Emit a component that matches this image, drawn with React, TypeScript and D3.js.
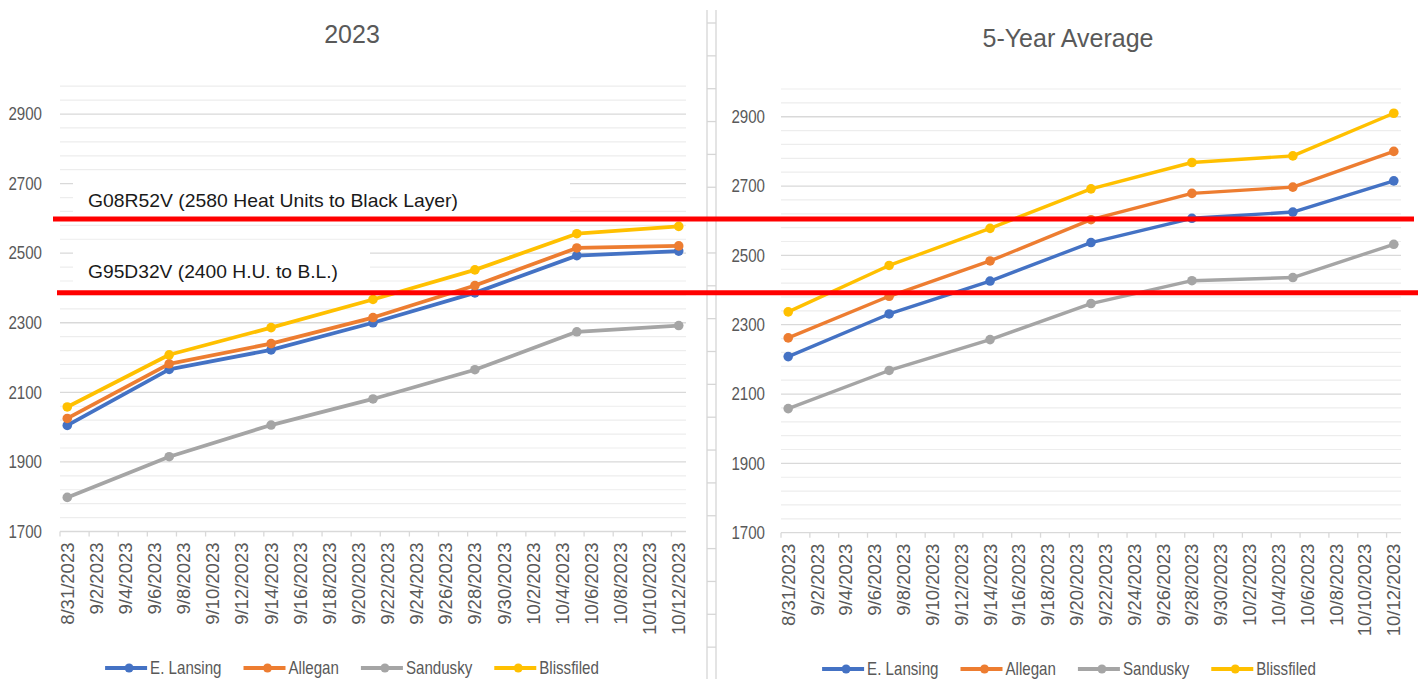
import React, { useEffect, useRef } from 'react';
import * as d3 from 'd3';

// ---------- data ----------
const seriesNames = ['E. Lansing', 'Allegan', 'Sandusky', 'Blissfiled'];
const seriesColors = ['#4472C4', '#ED7D31', '#A5A5A5', '#FFC000'];

const obsDates = ['2023-08-31', '2023-09-07', '2023-09-14', '2023-09-21', '2023-09-28', '2023-10-05', '2023-10-12'];

// 2023 season
const lansing2023 = [2005, 2166, 2222, 2300, 2386, 2493, 2506];
const allegan2023 = [2025, 2182, 2240, 2315, 2407, 2515, 2521];
const sandusky2023 = [1798, 1915, 2006, 2081, 2165, 2274, 2292];
const blissfield2023 = [2058, 2208, 2286, 2367, 2452, 2556, 2577];

// 5-year average
const lansingAvg = [2208, 2331, 2426, 2537, 2607, 2625, 2715];
const alleganAvg = [2262, 2382, 2484, 2603, 2679, 2697, 2800];
const sanduskyAvg = [2058, 2168, 2257, 2361, 2427, 2436, 2532];
const blissfieldAvg = [2337, 2471, 2578, 2692, 2768, 2787, 2910];

const yTickValues = [1700, 1900, 2100, 2300, 2500, 2700, 2900];
const yDomain = [1700, 2980];
const yMinorStep = 40;

const xTickLabels = [
  '8/31/2023', '9/2/2023', '9/4/2023', '9/6/2023', '9/8/2023', '9/10/2023', '9/12/2023', '9/14/2023',
  '9/16/2023', '9/18/2023', '9/20/2023', '9/22/2023', '9/24/2023', '9/26/2023', '9/28/2023', '9/30/2023',
  '10/2/2023', '10/4/2023', '10/6/2023', '10/8/2023', '10/10/2023', '10/12/2023',
];

const panelTitles = ['2023', '5-Year Average'];
const thresholdLevels = [2598, 2386];
const annotationTexts = ['G08R52V (2580 Heat Units to Black Layer)', 'G95D32V (2400 H.U. to B.L.)'];

// ---------- helpers ----------
const parseDate = (s: string) => {
  const [y, m, d] = s.split('-').map(Number);
  return new Date(y, m - 1, d);
};
const parseLabel = (s: string) => {
  const [m, d, y] = s.split('/').map(Number);
  return new Date(y, m - 1, d);
};
const addHours = (dt: Date, h: number) => new Date(dt.getTime() + h * 3600 * 1000);

const REG = "'Liberation Sans', Arial, sans-serif";
const TEXT = '#595959';
const NARROW_SX = 0.84;

export default function App() {
  const ref = useRef<SVGSVGElement | null>(null);

  useEffect(() => {
    const svg = d3.select(ref.current);
    svg.selectAll('*').remove();

    const firstDay = parseDate(obsDates[0]);
    const lastDay = parseDate(obsDates[obsDates.length - 1]);
    const xDomain = [addHours(firstDay, -12), addHours(lastDay, 12)];

    const panels = [
      {
        title: panelTitles[0], data: [lansing2023, allegan2023, sandusky2023, blissfield2023],
        x0: 60, x1: 686, yBottom: 531.5, yTop: 86.2, labelRight: 42,
        titleX: 352, titleY: 34, legendCX: 352, legendY: 668, lineW: 3.8,
      },
      {
        title: panelTitles[1], data: [lansingAvg, alleganAvg, sanduskyAvg, blissfieldAvg],
        x0: 781, x1: 1401, yBottom: 532.7, yTop: 89.0, labelRight: 765,
        titleX: 1068, titleY: 38, legendCX: 1069, legendY: 669, lineW: 3.4,
      },
    ];

    // spreadsheet cell borders between the two charts
    const sep = svg.append('g');
    [707, 716].forEach((x) =>
      sep.append('line').attr('x1', x).attr('x2', x).attr('y1', 10).attr('y2', 679)
        .attr('stroke', '#d6d6d6').attr('stroke-width', 1.3));
    d3.range(23, 679, 32.85).forEach((y) =>
      sep.append('line').attr('x1', 707).attr('x2', 716).attr('y1', y).attr('y2', y)
        .attr('stroke', '#d6d6d6').attr('stroke-width', 1.3));

    let leftY: d3.ScaleLinear<number, number> | null = null;

    panels.forEach((p, pi) => {
      const g = svg.append('g');
      const x = d3.scaleTime().domain(xDomain).range([p.x0, p.x1]);
      const y = d3.scaleLinear().domain(yDomain).range([p.yBottom, p.yTop]);
      if (pi === 0) leftY = y;

      // minor gridlines
      const minors = d3.range(yDomain[0] + yMinorStep, yDomain[1] + 1, yMinorStep)
        .filter((v) => !yTickValues.includes(v));
      g.selectAll('line.minor').data(minors).enter().append('line')
        .attr('x1', p.x0).attr('x2', p.x1)
        .attr('y1', (d) => y(d)).attr('y2', (d) => y(d))
        .attr('stroke', '#ededed').attr('stroke-width', 1.2);
      // major gridlines
      g.selectAll('line.major').data(yTickValues.slice(1)).enter().append('line')
        .attr('x1', p.x0).attr('x2', p.x1)
        .attr('y1', (d) => y(d)).attr('y2', (d) => y(d))
        .attr('stroke', '#d9d9d9').attr('stroke-width', 1.3);

      // y labels
      g.selectAll('text.ylab').data(yTickValues).enter().append('text')
        .attr('transform', (d) => `translate(${p.labelRight},${y(d)}) scale(${NARROW_SX},1)`)
        .attr('dy', '0.35em').attr('text-anchor', 'end')
        .attr('font-family', REG).attr('font-size', 18).attr('fill', TEXT)
        .text((d) => String(d));

      // x axis line + ticks
      g.append('line').attr('x1', p.x0).attr('x2', p.x1)
        .attr('y1', y(yDomain[0])).attr('y2', y(yDomain[0]))
        .attr('stroke', '#d9d9d9').attr('stroke-width', 1.3);
      const tickDates = d3.range(0, 22).map((k) => addHours(xDomain[0], k * 48));
      g.selectAll('line.xt').data(tickDates).enter().append('line')
        .attr('x1', (d) => x(d)).attr('x2', (d) => x(d))
        .attr('y1', y(yDomain[0])).attr('y2', y(yDomain[0]) + 5)
        .attr('stroke', '#d9d9d9').attr('stroke-width', 1.3);

      // x labels (rotated)
      g.selectAll('text.xlab').data(xTickLabels).enter().append('text')
        .attr('transform', (d) => `translate(${x(parseLabel(d))},${y(yDomain[0]) + 11}) rotate(-90)`)
        .attr('dy', '0.35em').attr('text-anchor', 'end')
        .attr('font-family', REG).attr('font-size', 18.5).attr('fill', TEXT)
        .text((d) => d);

      // title
      g.append('text').attr('x', p.titleX).attr('y', p.titleY).attr('dy', '0.35em')
        .attr('text-anchor', 'middle').attr('font-family', REG).attr('font-size', 25)
        .attr('fill', TEXT).text(p.title);

      // series
      const dates = obsDates.map(parseDate);
      const line = d3.line<number>().x((_, i) => x(dates[i])).y((d) => y(d));
      p.data.forEach((vals, si) => {
        g.append('path').attr('d', line(vals) as string).attr('fill', 'none')
          .attr('stroke', seriesColors[si]).attr('stroke-width', p.lineW)
          .attr('stroke-linejoin', 'round').attr('stroke-linecap', 'round');
        g.selectAll(`circle.s${si}`).data(vals).enter().append('circle')
          .attr('cx', (_, i) => x(dates[i])).attr('cy', (d) => y(d))
          .attr('r', 4.8).attr('fill', seriesColors[si]);
      });

      // legend
      const lg = g.append('g');
      let cursor = 0;
      seriesNames.forEach((name, si) => {
        const item = lg.append('g').attr('transform', `translate(${cursor},0)`);
        item.append('line').attr('x1', 0).attr('x2', 42).attr('y1', 0).attr('y2', 0)
          .attr('stroke', seriesColors[si]).attr('stroke-width', 3.8);
        item.append('circle').attr('cx', 24).attr('cy', 0).attr('r', 4.5).attr('fill', seriesColors[si]);
        const t = item.append('text').attr('transform', `translate(45,0) scale(${NARROW_SX},1)`)
          .attr('dy', '0.35em')
          .attr('font-family', REG).attr('font-size', 18).attr('fill', TEXT).text(name);
        const w = (t.node() as SVGTextElement).getComputedTextLength() * NARROW_SX;
        cursor += 45 + w + (si < seriesNames.length - 1 ? 22 : 0);
      });
      lg.attr('transform', `translate(${p.legendCX - cursor / 2},${p.legendY})`);
    });

    // annotation text boxes (white fill over the left chart)
    const ann = svg.append('g');
    const boxes = [
      { x: 73, y: 174, w: 497, h: 41, tx: 88, ty: 207, tl: 370 },
      { x: 73, y: 244, w: 297, h: 43, tx: 88, ty: 278, tl: 250 },
    ];
    boxes.forEach((b, i) => {
      ann.append('rect').attr('x', b.x).attr('y', b.y).attr('width', b.w).attr('height', b.h).attr('fill', '#fff');
      ann.append('text').attr('x', b.tx).attr('y', b.ty)
        .attr('font-family', REG).attr('font-size', 19).attr('fill', '#1a1a1a')
        .attr('textLength', b.tl).attr('lengthAdjust', 'spacingAndGlyphs')
        .text(annotationTexts[i]);
    });

    // red threshold lines across both charts
    const ly = leftY as unknown as d3.ScaleLinear<number, number>;
    const spans = [[53, 1414], [57, 1418]];
    thresholdLevels.forEach((lvl, i) => {
      ann.append('line').attr('x1', spans[i][0]).attr('x2', spans[i][1])
        .attr('y1', ly(lvl)).attr('y2', ly(lvl))
        .attr('stroke', '#ff0000').attr('stroke-width', 5);
    });
  }, []);

  return (
    <svg ref={ref} width={1421} height={679}
      style={{ position: 'absolute', left: 0, top: 0, background: '#fff', display: 'block' }} />
  );
}
